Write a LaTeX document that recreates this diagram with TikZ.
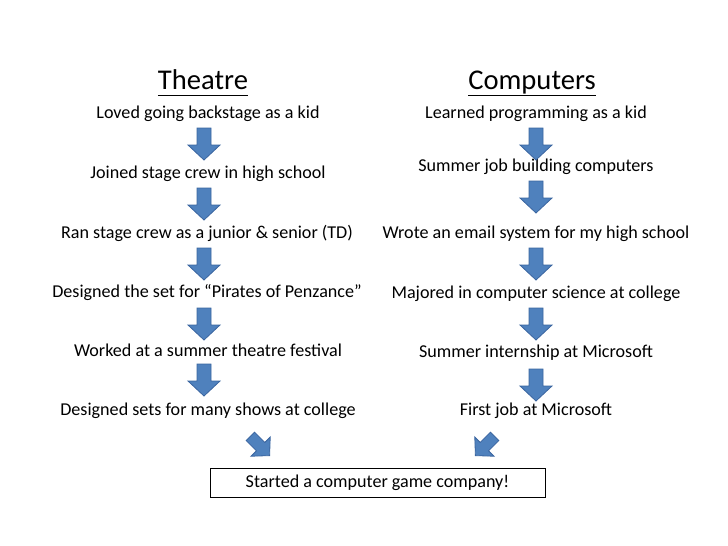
\documentclass[tikz,border=0pt]{standalone}
\usepackage{fontspec}
\setmainfont{Carlito}
\definecolor{arrfill}{HTML}{4F81BD}
\definecolor{arrdraw}{HTML}{3A65A0}
\tikzset{
  txt/.style={font=\fontsize{18.1}{21}\selectfont, inner sep=0pt, anchor=center, text height=12pt, text depth=4pt},
  ttl/.style={font=\fontsize{28.6}{33}\selectfont, inner sep=0pt, anchor=base},
  finalbox/.style={draw=black, line width=0.8pt, minimum width=335pt, minimum height=29pt, inner sep=0pt, font=\fontsize{18.1}{21}\selectfont},
  blockarrow/.pic={
    \path[fill=arrfill, draw=arrdraw, line width=0.8pt]
      (-7,-16) -- (7,-16) -- (7,1) -- (16,1) -- (0,16) -- (-16,1) -- (-7,1) -- cycle;
  }
}
\begin{document}
\begin{tikzpicture}[x=1pt,y=-1pt]
\useasboundingbox (0,0) rectangle (728,546);
% titles
\node[ttl] (t1) at (203,89) {\underline{Theatre\vphantom{p}}};
\node[ttl] (t2) at (532,89) {\underline{Computers}};
% left column
\node[txt] (l1) at (208,114) {Loved going backstage as a kid};
\node[txt] (l2) at (208,174) {Joined stage crew in high school};
\node[txt] (l3) at (207,234) {Ran stage crew as a junior \& senior (TD)};
\node[txt] (l4) at (207,293) {Designed the set for “Pirates of Penzance”};
\node[txt] (l5) at (208,352) {Worked at a summer theatre festival};
\node[txt] (l6) at (208,411) {Designed sets for many shows at college};
% right column
\node[txt] (r1) at (536,114) {Learned programming as a kid};
\node[txt] (r2) at (536,167) {Summer job building computers};
\node[txt] (r3) at (536,234) {Wrote an email system for my high school};
\node[txt] (r4) at (536,294) {Majored in computer science at college};
\node[txt] (r5) at (536,353) {Summer internship at Microsoft};
\node[txt] (r6) at (536,411) {First job at Microsoft};
% final box
\node[finalbox] (fin) at (377.5,482.5) {Started a computer game company!};
% arrows left
\pic at (204,144) {blockarrow};
\pic at (204,204) {blockarrow};
\pic at (204,264) {blockarrow};
\pic at (204,324) {blockarrow};
\pic at (204,380) {blockarrow};
% arrows right
\pic at (536,144) {blockarrow};
\pic at (536,197) {blockarrow};
\pic at (536,264) {blockarrow};
\pic at (536,324) {blockarrow};
\pic at (536,385) {blockarrow};
% diagonal arrows
\pic[rotate=45, scale=0.85] at (260,446) {blockarrow};
\pic[rotate=-45, scale=0.85] at (485,446) {blockarrow};
\end{tikzpicture}
\end{document}
